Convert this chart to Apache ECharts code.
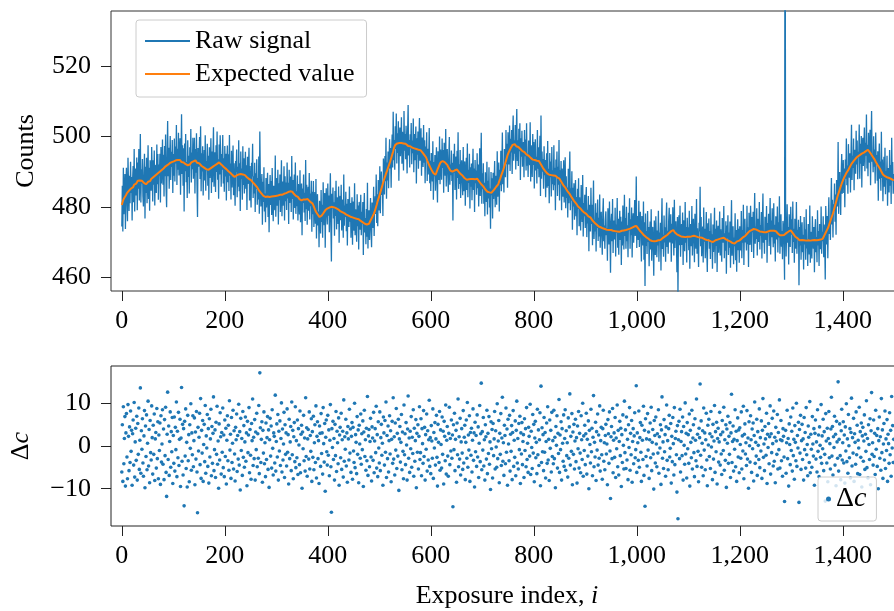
<!DOCTYPE html>
<html>
<head>
<meta charset="utf-8">
<script src="https://cdn.jsdelivr.net/npm/echarts@6/dist/echarts.min.js"></script>
<style>
html,body{margin:0;padding:0;background:#fff;}
#chart{width:894px;height:611px;}
</style>
</head>
<body>
<div id="chart"></div>
<script>
// Expected value (orange), one value per exposure index 0..1499
const expected = [
480.5,481.1,481.3,482.0,482.1,482.6,482.5,483.1,483.3,483.6,
483.9,483.6,484.3,484.1,484.6,484.4,484.9,484.7,485.2,484.9,
485.3,485.1,485.6,485.8,486.3,486.0,486.5,486.8,486.6,487.1,
487.0,487.4,487.1,487.6,487.3,487.5,487.2,487.6,487.2,487.4,
487.3,487.0,487.2,486.8,486.9,486.5,486.8,486.4,486.7,486.6,
486.8,487.1,486.9,487.3,487.5,487.3,487.7,487.9,487.7,488.2,
488.1,488.4,488.3,488.6,488.5,488.9,488.8,489.1,489.0,489.4,
489.4,489.7,489.5,489.9,489.8,490.2,490.0,490.4,490.3,490.7,
490.6,490.9,490.8,491.2,491.0,491.5,491.3,491.7,491.5,491.9,
491.9,492.2,492.0,492.4,492.2,492.6,492.3,492.7,492.4,492.7,
492.6,492.9,492.7,493.1,492.8,493.2,493.0,493.4,493.1,493.3,
493.2,493.5,493.1,493.3,492.9,493.1,492.7,492.9,492.5,492.8,
492.6,492.7,492.3,492.5,492.1,492.3,491.9,492.1,491.8,492.0,
491.9,492.2,492.0,492.4,492.3,492.6,492.4,492.8,492.6,492.9,
492.8,493.1,492.9,493.2,492.8,492.9,492.5,492.7,492.4,492.6,
492.4,492.2,492.3,491.9,492.0,491.6,491.7,491.3,491.5,491.2,
491.1,491.2,490.9,491.0,490.7,490.9,490.6,490.8,490.5,490.7,
490.6,490.8,490.7,491.0,490.9,491.2,491.1,491.4,491.2,491.5,
491.5,491.8,491.6,492.0,491.9,492.2,492.0,492.4,492.2,492.6,
492.5,492.6,492.2,492.3,491.9,492.0,491.6,491.7,491.3,491.5,
491.3,491.1,491.0,490.7,490.8,490.4,490.5,490.1,490.2,489.9,
489.8,489.6,489.7,489.3,489.4,489.0,489.1,488.7,488.9,488.5,
488.5,488.7,488.6,488.9,488.7,489.0,488.8,489.2,488.9,489.1,
489.1,489.3,489.0,489.2,488.9,489.2,488.9,489.1,488.8,489.0,
488.9,488.7,488.8,488.4,488.5,488.1,488.3,487.9,488.1,487.8,
487.7,487.6,487.3,487.4,487.0,487.1,486.7,486.8,486.4,486.5,
486.3,486.0,485.9,485.5,485.4,485.0,484.9,484.5,484.4,484.1,
484.0,483.8,483.7,483.4,483.5,483.1,483.3,482.9,483.1,482.8,
482.9,483.0,482.7,482.9,482.6,482.8,482.5,482.8,482.6,482.9,
482.7,482.9,482.6,482.8,482.7,483.0,482.7,483.0,482.8,483.1,
482.9,483.1,482.9,483.2,483.0,483.3,483.1,483.4,483.1,483.3,
483.2,483.4,483.3,483.6,483.4,483.7,483.5,483.8,483.6,483.9,
483.8,484.0,483.9,484.2,484.0,484.3,484.1,484.4,484.1,484.3,
484.2,484.3,484.0,484.1,483.7,483.8,483.4,483.5,483.1,483.2,
483.0,482.9,482.8,482.5,482.6,482.2,482.3,481.9,482.1,481.8,
481.8,482.0,481.8,482.1,481.9,482.2,481.9,482.1,481.8,482.1,
482.0,482.2,481.9,482.0,481.7,481.8,481.4,481.5,481.1,481.2,
481.0,480.6,480.4,479.9,479.8,479.3,479.1,478.6,478.5,478.1,
478.0,477.7,477.5,477.3,477.1,477.0,477.2,477.3,477.5,477.6,
477.8,478.1,478.2,478.6,478.7,479.0,479.0,479.3,479.2,479.5,
479.5,479.7,479.5,479.8,479.6,479.9,479.7,480.0,479.7,479.9,
479.8,479.9,479.6,479.8,479.5,479.7,479.4,479.6,479.3,479.4,
479.3,479.3,479.0,479.1,478.8,479.0,478.7,478.8,478.5,478.7,
478.5,478.5,478.2,478.3,477.9,478.1,477.8,477.9,477.5,477.7,
477.5,477.6,477.3,477.5,477.2,477.4,477.1,477.3,477.0,477.2,
477.0,477.1,476.8,477.0,476.7,476.9,476.6,476.8,476.5,476.7,
476.5,476.6,476.3,476.4,476.0,476.2,475.8,476.0,475.6,475.8,
475.5,475.6,475.2,475.4,475.1,475.3,475.0,475.3,475.1,475.4,
475.2,475.5,475.6,476.1,476.2,476.7,476.8,477.3,477.4,477.9,
478.0,478.6,479.0,479.6,480.0,480.6,481.0,481.7,482.0,482.6,
483.0,483.6,484.0,484.6,485.0,485.6,486.0,486.6,487.0,487.6,
488.0,488.5,488.8,489.4,489.7,490.2,490.5,491.1,491.4,491.9,
492.2,492.8,493.2,493.8,494.3,494.8,495.3,495.8,496.3,496.9,
497.3,497.6,497.4,497.8,497.6,498.0,497.7,498.1,497.8,498.1,
498.0,498.2,497.9,498.1,497.8,498.1,497.8,498.0,497.7,498.0,
497.9,497.9,497.6,497.8,497.5,497.6,497.3,497.5,497.2,497.4,
497.2,497.3,497.0,497.1,496.8,497.0,496.7,496.9,496.6,496.8,
496.6,496.7,496.4,496.6,496.3,496.5,496.2,496.4,496.1,496.3,
496.1,496.0,495.8,495.7,495.4,495.4,495.0,495.0,494.6,494.7,
494.5,494.0,493.8,493.2,493.0,492.5,492.3,491.8,491.5,491.2,
491.0,490.6,490.5,490.1,490.0,489.6,489.6,489.2,489.3,489.1,
489.3,489.8,490.0,490.6,490.8,491.3,491.5,492.0,492.1,492.6,
492.6,492.9,492.7,493.0,492.7,492.9,492.5,492.7,492.3,492.6,
492.4,492.3,491.9,491.8,491.3,491.2,490.8,490.7,490.3,490.2,
490.0,490.2,490.0,490.3,490.2,490.5,490.3,490.6,490.4,490.7,
490.6,490.6,490.3,490.3,490.0,490.0,489.6,489.7,489.3,489.4,
489.2,489.1,488.8,488.8,488.4,488.5,488.1,488.2,487.8,487.9,
487.7,487.9,487.7,488.0,487.8,488.1,487.8,488.1,487.9,488.2,
488.0,488.2,487.9,488.2,487.9,488.1,487.8,488.1,487.9,488.2,
488.0,487.9,487.6,487.5,487.2,487.2,486.8,486.8,486.4,486.5,
486.2,486.0,485.8,485.6,485.4,485.3,484.9,484.9,484.5,484.5,
484.3,484.5,484.2,484.4,484.1,484.3,484.0,484.3,484.0,484.3,
484.2,484.5,484.5,484.9,485.0,485.3,485.3,485.7,485.6,486.0,
485.9,486.4,486.7,487.3,487.6,488.1,488.4,489.0,489.3,489.8,
490.0,490.6,491.0,491.6,492.0,492.6,493.0,493.6,494.0,494.6,
495.0,495.4,495.5,496.0,496.1,496.6,496.7,497.1,497.2,497.6,
497.7,497.9,497.6,497.8,497.4,497.6,497.2,497.4,497.0,497.2,
497.0,497.0,496.7,496.8,496.4,496.5,496.1,496.2,495.8,496.0,
495.8,495.8,495.5,495.5,495.1,495.2,494.8,494.9,494.5,494.7,
494.5,494.5,494.2,494.3,493.9,494.1,493.7,493.8,493.4,493.6,
493.4,493.6,493.3,493.5,493.1,493.4,493.1,493.3,492.9,493.2,
493.0,492.9,492.5,492.4,492.0,491.9,491.5,491.4,491.0,490.9,
490.6,490.5,490.2,490.2,489.9,489.9,489.5,489.6,489.2,489.3,
489.1,489.3,489.0,489.3,489.0,489.2,488.9,489.2,488.9,489.2,
489.1,489.1,488.8,488.9,488.5,488.7,488.3,488.5,488.1,488.2,
488.0,487.9,487.5,487.4,487.0,486.9,486.5,486.5,486.0,486.0,
485.8,485.7,485.3,485.2,484.8,484.8,484.3,484.3,483.9,483.8,
483.6,483.5,483.1,483.0,482.6,482.6,482.2,482.1,481.7,481.7,
481.5,481.4,481.0,480.9,480.6,480.5,480.1,480.1,479.7,479.8,
479.6,479.6,479.2,479.3,478.9,479.1,478.7,478.8,478.4,478.6,
478.4,478.3,478.0,478.0,477.7,477.7,477.3,477.4,477.0,477.2,
477.0,476.9,476.5,476.5,476.1,476.2,475.8,475.8,475.5,475.6,
475.5,475.4,475.0,475.0,474.7,474.8,474.4,474.5,474.2,474.3,
474.2,474.3,474.0,474.2,473.9,474.1,473.8,474.0,473.7,473.9,
473.7,473.8,473.5,473.8,473.5,473.7,473.4,473.6,473.3,473.6,
473.4,473.5,473.2,473.5,473.2,473.4,473.1,473.4,473.1,473.3,
473.2,473.3,473.0,473.3,473.0,473.2,472.9,473.2,472.9,473.1,
473.0,473.2,472.9,473.2,473.0,473.3,473.0,473.3,473.1,473.4,
473.3,473.5,473.3,473.6,473.4,473.7,473.5,473.8,473.6,474.0,
473.9,474.1,473.9,474.2,474.0,474.4,474.2,474.5,474.3,474.6,
474.5,474.4,474.0,474.0,473.6,473.6,473.2,473.2,472.8,472.8,
472.6,472.6,472.2,472.3,471.9,472.0,471.6,471.8,471.4,471.5,
471.3,471.3,471.0,471.1,470.7,470.9,470.5,470.7,470.3,470.5,
470.3,470.5,470.2,470.5,470.2,470.5,470.3,470.6,470.3,470.6,
470.5,470.7,470.5,470.8,470.6,470.9,470.6,470.9,470.7,471.0,
470.9,471.2,471.1,471.4,471.3,471.6,471.5,471.8,471.7,472.0,
472.0,472.3,472.2,472.6,472.5,472.9,472.7,473.1,473.0,473.3,
473.3,473.4,473.0,473.1,472.7,472.8,472.5,472.6,472.2,472.4,
472.2,472.3,471.9,472.1,471.8,471.9,471.6,471.8,471.5,471.7,
471.5,471.7,471.4,471.7,471.4,471.7,471.4,471.7,471.5,471.8,
471.6,471.8,471.5,471.8,471.5,471.8,471.6,471.9,471.6,471.8,
471.7,471.8,471.5,471.7,471.4,471.6,471.3,471.5,471.2,471.4,
471.3,471.4,471.1,471.3,471.0,471.3,471.0,471.2,470.9,471.2,
471.0,471.1,470.8,471.0,470.7,470.9,470.6,470.8,470.5,470.7,
470.5,470.6,470.3,470.5,470.2,470.4,470.1,470.3,470.0,470.3,
470.1,470.3,470.2,470.5,470.3,470.6,470.4,470.7,470.5,470.8,
470.7,470.9,470.7,471.0,470.8,471.1,470.9,471.2,470.9,471.2,
471.1,471.1,470.9,471.0,470.7,470.8,470.5,470.7,470.4,470.5,
470.4,470.4,470.1,470.2,469.9,470.0,469.7,469.9,469.6,469.8,
469.6,469.8,469.7,470.0,469.9,470.2,470.0,470.3,470.1,470.4,
470.3,470.6,470.5,470.9,470.8,471.1,471.0,471.4,471.2,471.6,
471.5,471.8,471.8,472.2,472.1,472.5,472.4,472.8,472.7,473.1,
473.0,473.3,473.1,473.4,473.2,473.5,473.3,473.7,473.4,473.7,
473.6,473.6,473.3,473.4,473.1,473.3,473.0,473.2,472.8,473.0,
472.9,473.0,472.7,472.9,472.6,472.8,472.5,472.8,472.5,472.7,
472.6,472.8,472.6,472.9,472.7,473.0,472.8,473.1,472.9,473.2,
473.1,473.3,473.0,473.2,472.9,473.2,472.9,473.2,472.9,473.1,
473.0,473.0,472.7,472.8,472.4,472.5,472.2,472.3,471.9,472.1,
472.0,472.2,471.9,472.2,472.0,472.3,472.0,472.3,472.1,472.4,
472.3,472.6,472.4,472.8,472.6,473.0,472.8,473.1,473.0,473.3,
473.2,473.1,472.8,472.7,472.3,472.3,471.9,471.9,471.5,471.6,
471.5,471.5,471.1,471.2,470.8,470.9,470.5,470.7,470.3,470.5,
470.4,470.6,470.3,470.5,470.2,470.5,470.2,470.5,470.2,470.4,
470.3,470.5,470.2,470.5,470.2,470.4,470.1,470.4,470.2,470.4,
470.3,470.5,470.2,470.5,470.3,470.6,470.3,470.5,470.2,470.5,
470.4,470.6,470.3,470.6,470.4,470.7,470.4,470.7,470.5,470.8,
470.6,470.9,471.1,471.5,471.7,472.1,472.3,472.7,472.9,473.3,
473.3,473.8,474.2,474.7,475.1,475.6,476.0,476.5,476.9,477.4,
477.5,478.1,478.6,479.2,479.7,480.3,480.8,481.4,481.9,482.5,
483.0,483.5,483.9,484.4,484.8,485.3,485.6,486.2,486.5,487.0,
487.3,487.7,487.9,488.4,488.6,489.0,489.2,489.6,489.8,490.1,
490.1,490.5,490.6,491.1,491.2,491.6,491.7,492.2,492.3,492.6,
492.7,493.0,493.0,493.4,493.4,493.7,493.7,494.1,494.0,494.3,
494.3,494.5,494.4,494.7,494.6,494.9,494.8,495.1,495.0,495.3,
495.2,495.4,495.3,495.6,495.5,495.8,495.7,496.0,495.9,496.2,
496.1,496.0,495.7,495.6,495.2,495.2,494.8,494.8,494.3,494.3,
494.0,493.9,493.4,493.3,492.8,492.8,492.3,492.2,491.8,491.7,
491.5,491.3,490.9,490.8,490.3,490.3,489.8,489.7,489.2,489.2,
489.0,489.0,488.7,488.9,488.5,488.7,488.4,488.6,488.3,488.5,
488.2,488.4,488.1,488.3,487.9,488.1,487.8,488.0,487.6,487.8
];

// Residual Δc = raw signal − expected value, one value per exposure index 0..1499
const residual = [
-6.1,4.9,-8.3,9.1,-4.2,1.7,6.8,-9.4,3.0,7.5,-2.6,-7.7,9.6,2.2,-5.8,4.4,-3.9,8.1,-1.3,3.6,
-9.2,2.8,6.0,-4.5,10.1,-7.3,0.9,4.1,-3.4,6.9,-8.0,5.2,-2.0,8.8,-5.5,1.3,13.5,-6.4,3.5,-0.8,
6.3,-4.0,-7.1,2.3,8.2,-9.8,4.6,-2.5,7.2,-5.6,0.6,10.4,-4.7,3.8,-8.6,5.9,-1.6,-3.3,9.3,1.9,
-6.6,4.8,-2.0,7.4,-8.1,1.6,3.1,-5.2,8.7,-3.0,5.6,-7.7,2.5,-1.1,5.3,-9.0,7.0,-3.8,0.4,8.4,
-4.3,3.9,-7.9,6.1,-2.3,9.0,-6.2,-11.8,2.7,12.5,-3.2,4.6,-6.9,1.0,7.9,-5.0,3.3,-1.4,6.6,-8.8,
2.4,-4.1,6.7,-5.9,4.3,-0.9,10.2,-7.2,3.4,-2.8,7.8,-4.6,1.5,6.2,-9.5,1.8,13.6,-3.6,5.0,-6.8,
4.0,-14.0,5.7,-2.4,8.6,-5.3,0.8,-9.6,7.1,-3.5,2.6,-8.4,4.9,-0.6,9.8,-5.7,3.0,-2.1,7.0,-4.9,
1.2,6.5,-9.1,3.2,-3.1,8.0,-6.1,-15.6,4.3,-1.2,2.0,7.6,-4.4,11.0,-7.6,3.6,-1.7,5.9,-8.3,0.3,
5.0,-3.7,9.4,-6.4,2.3,-0.5,7.3,-4.8,4.0,-8.7,6.3,-2.6,1.6,8.5,-7.0,4.5,-4.1,2.9,11.4,-5.8,
-0.9,3.7,-7.4,5.5,-2.0,9.2,-4.3,1.1,-9.9,5.1,-3.3,7.7,2.1,-6.6,3.1,-1.5,8.8,-5.1,2.5,-7.2,
6.0,-2.5,4.1,-8.9,1.3,7.0,-3.5,4.8,-5.7,10.5,-1.0,2.7,-7.6,6.6,-3.9,0.6,8.3,-5.4,3.5,-1.9,
-8.2,4.3,1.4,7.4,-6.0,2.4,-3.1,9.7,-4.5,3.3,-10.3,6.4,-1.1,1.7,-6.9,8.0,-2.7,4.7,-5.0,0.9,
6.7,-3.6,3.0,-9.3,5.7,-1.6,2.5,8.9,-6.3,3.8,-2.2,-7.8,5.2,1.2,10.9,-4.6,2.0,-3.0,6.1,-8.0,
3.2,-0.9,7.6,-4.9,2.8,-2.9,9.4,-6.5,17.0,4.2,-3.9,1.5,5.6,-8.5,3.6,-1.7,7.9,-4.2,0.7,-7.2,
5.3,-3.2,1.9,6.8,-5.5,3.7,-9.7,1.4,6.4,-2.4,4.6,-5.2,8.4,-0.6,-6.8,3.0,2.2,-4.0,11.8,-5.9,
1.0,5.1,-2.6,7.3,-8.0,3.4,-1.2,5.8,-4.6,1.7,10.0,-6.1,3.9,-3.3,0.4,7.8,-7.4,4.9,-2.0,3.0,
-4.7,8.6,-1.5,2.6,-8.9,6.2,-3.0,0.9,4.5,-5.8,10.2,-2.1,3.6,-7.7,2.1,5.4,-3.7,9.1,-5.1,1.2,
-2.8,6.0,-6.7,4.0,0.2,-4.4,8.1,-6.3,2.7,4.8,-9.9,3.2,-0.7,7.1,-3.5,1.8,-5.9,11.2,-2.5,4.2,
-7.1,1.6,3.8,-3.1,7.9,-5.4,2.4,-1.3,6.3,-8.3,3.3,-2.7,6.9,-5.6,0.7,4.9,-3.9,9.3,-7.5,2.2,
5.6,-3.0,1.2,-8.8,4.6,2.9,-4.8,7.5,-1.8,3.0,-6.6,8.9,0.5,-3.8,5.2,-10.6,2.0,6.0,-1.4,-4.5,
7.1,-2.2,3.7,-7.0,1.3,9.6,-4.9,-15.5,4.0,-0.4,5.7,-3.2,1.7,-8.0,5.0,-2.3,8.0,-6.0,3.4,0.7,
-4.2,6.5,-9.2,2.5,4.3,-2.8,7.6,-5.5,1.4,3.4,-7.3,10.7,-3.6,2.1,-0.8,6.2,-4.7,3.0,-8.5,4.5,
1.6,-3.3,8.5,-1.7,3.9,-6.2,2.2,5.4,-7.8,4.3,-1.2,-3.9,9.9,-5.1,2.6,0.8,-6.5,6.8,-2.0,3.7,
-8.6,4.8,0.4,-2.9,7.4,-4.3,2.8,-0.9,5.8,-9.5,3.2,8.3,-2.5,1.4,-5.7,4.1,-3.5,11.5,-6.9,2.3,
3.8,-4.9,1.0,6.4,-2.6,-8.2,4.4,1.8,-3.4,7.8,-6.3,1.1,4.0,-1.6,9.2,-5.2,2.6,-7.2,5.6,-0.5,
-4.0,7.9,-5.8,1.9,5.0,-2.2,0.6,-9.2,6.7,3.0,-4.5,5.9,-1.5,10.2,-7.4,2.4,-3.0,4.6,-6.1,1.2,
7.0,-1.9,3.5,-8.4,1.5,5.7,-4.1,11.2,-3.1,2.1,-6.8,5.3,-1.0,8.7,-5.3,2.9,-2.4,6.2,-10.4,1.6,
4.5,-3.8,0.8,7.3,-5.6,3.2,-1.3,-7.7,9.5,-2.1,2.8,-4.4,5.4,0.2,-8.0,3.9,11.6,-2.9,1.8,-6.2,
3.4,-0.7,6.8,-5.0,2.0,-1.8,8.4,-7.1,4.1,-3.6,1.2,6.1,-9.8,2.9,-1.5,4.9,-5.4,2.2,9.1,-3.2,
-1.6,6.3,-7.0,4.0,0.5,-4.1,8.2,-2.5,4.3,-8.0,2.6,-0.8,7.4,-5.9,3.5,-3.3,1.4,10.6,-4.8,1.9,
-6.5,4.7,1.1,-2.9,8.6,-7.6,3.1,-0.5,5.4,-4.5,1.6,7.1,-2.7,-9.4,5.0,0.8,-3.9,8.0,-5.7,3.7,
0.3,-5.2,6.7,-2.0,3.4,-8.9,5.7,2.2,-3.5,9.5,-6.6,1.3,4.5,-2.4,-7.1,2.9,9.0,-4.4,1.7,-1.2,
6.0,-2.9,2.5,-14.2,4.9,-0.9,7.6,-5.8,1.5,3.6,-8.5,5.3,-2.1,10.9,-4.9,2.1,-3.1,6.4,-6.8,0.9,
4.0,-1.7,-5.5,8.2,-4.0,2.0,4.8,-7.9,0.8,6.0,-2.9,10.1,-5.0,2.5,-1.0,7.0,-8.3,3.1,-2.2,4.1,
-6.1,1.3,8.6,-3.4,3.0,-9.6,5.5,-1.4,2.4,-4.8,7.2,-2.6,4.4,-7.4,0.6,9.4,-3.7,2.8,14.6,-5.6,
3.3,-1.0,6.6,-4.7,1.4,-8.0,4.9,2.1,-3.1,8.3,-6.5,2.9,-1.8,6.8,-4.3,0.9,-10.2,5.6,-0.7,3.8,
-7.5,5.2,-2.3,1.6,8.0,-5.4,3.5,-0.3,-5.0,9.8,-3.0,1.1,5.9,-8.6,2.9,-2.0,7.5,-4.6,1.8,11.3,
-3.6,0.7,-6.9,4.8,2.4,-4.2,8.8,-1.5,3.9,-9.2,6.2,0.4,-3.5,7.1,-5.9,2.7,-1.3,4.7,-7.9,3.1,
8.2,-4.8,1.3,-2.7,5.8,-7.0,3.6,10.4,-4.0,1.7,-5.4,5.2,-0.9,6.9,-8.8,3.0,-1.9,5.4,-4.4,1.0,
2.6,-7.4,6.3,-1.1,4.0,-4.9,8.9,-3.2,0.6,-6.2,4.3,2.2,-2.4,9.7,-6.7,3.4,-0.4,-5.3,7.3,-1.7,
5.0,-8.4,1.8,5.7,-2.8,0.8,-6.5,8.5,-2.1,3.7,-4.6,1.4,7.7,-9.3,13.9,-3.9,4.2,-1.4,2.6,-5.8,
6.6,-1.5,3.1,-7.5,1.0,5.3,-4.1,9.1,-3.3,1.5,-8.1,6.0,-0.6,3.6,-6.1,7.8,-2.5,1.2,-4.2,8.3,
-3.0,2.0,-9.8,4.5,0.1,7.0,-5.2,2.9,-1.8,10.8,-6.2,2.5,-0.9,5.6,-8.0,4.0,0.6,-3.6,7.2,-4.8,
1.7,8.4,-5.7,3.5,-2.3,0.7,-7.3,6.5,-2.9,4.4,12.1,-4.5,2.2,-1.3,7.5,-9.1,3.2,-2.0,5.0,-5.4,
1.1,6.2,-3.7,1.9,-8.7,4.6,-0.7,8.0,-5.2,2.9,-1.7,-6.3,7.0,1.4,-3.2,9.9,-7.1,2.3,-1.1,4.8,
-4.4,2.8,7.6,-6.6,1.5,-2.4,5.8,-10.0,3.6,0.3,-4.0,8.5,-1.4,4.1,-7.0,2.0,11.7,-4.9,0.8,-2.6,
5.5,-8.1,3.3,-1.0,7.4,-4.5,2.5,-2.9,9.3,-5.9,1.2,4.3,-2.1,-7.8,4.0,8.3,-3.6,0.7,-5.6,2.4,
5.0,-1.9,0.4,-9.1,6.1,2.8,-4.1,7.9,-1.2,-12.3,2.1,4.5,-3.0,8.7,-6.3,1.3,3.0,-2.7,6.6,-7.4,
1.8,-0.7,9.5,-4.9,3.6,-6.8,1.0,5.7,-2.3,4.1,-9.5,2.6,-3.9,7.2,0.1,-5.4,10.4,-1.6,3.7,-5.3,
6.7,-3.3,1.5,-7.9,4.9,-0.4,8.9,-5.7,2.9,-2.1,5.9,-8.5,1.0,4.0,-4.2,2.3,7.7,-2.8,-0.9,14.0,
-6.2,3.0,0.7,-3.4,8.1,-5.0,1.9,5.4,-1.5,-8.3,4.8,1.3,-3.2,9.2,-6.9,3.6,-14.1,6.3,-2.5,1.6,
-4.7,7.5,-1.0,3.2,-7.6,1.4,5.3,-2.8,9.0,-5.8,0.8,3.8,-1.9,-10.1,5.9,2.4,-4.0,6.7,0.4,-4.9,
2.8,-1.7,8.4,-6.4,2.1,-0.5,4.9,-9.0,3.7,11.4,-2.9,0.9,-5.3,6.1,-1.4,2.6,-7.1,4.4,9.5,-3.4,
1.2,-5.6,4.0,7.1,-2.6,-0.6,5.2,-8.7,2.2,-3.7,6.6,0.5,-6.8,8.9,-4.4,1.7,3.4,-2.1,-10.8,4.7,
-17.0,1.4,5.7,-3.0,8.5,-6.1,1.0,3.3,-2.3,6.7,-8.0,4.5,0.1,-4.3,10.0,-1.9,2.9,-7.5,5.4,-0.7,
2.6,-4.1,7.4,-9.4,3.6,0.8,-2.8,8.3,-5.4,1.8,4.9,-1.6,-7.2,6.3,1.3,-3.5,10.9,-4.8,2.7,-1.3,
-8.4,4.1,1.9,14.4,-2.2,5.8,-5.0,0.6,3.5,-7.0,8.8,-1.0,3.0,-5.6,1.4,7.6,-3.3,-9.3,4.8,0.2,
6.2,-2.5,2.8,-5.3,8.0,-0.3,2.1,-7.9,5.0,-3.1,1.1,9.4,-6.2,3.3,-1.4,5.5,-8.9,1.7,4.1,-3.8,
0.9,7.8,-4.5,2.6,-1.9,-6.7,5.9,3.2,-1.1,9.0,-5.7,1.4,-3.4,4.9,-9.7,3.9,0.6,6.9,-4.1,2.2,
-2.0,5.4,-7.4,3.0,12.0,-3.9,1.0,4.6,-5.9,1.5,-0.8,8.4,-4.9,3.4,-8.3,1.2,6.5,-2.6,3.7,-6.3,
4.2,0.3,-2.9,7.9,-5.4,2.3,-1.2,9.2,-7.7,2.7,5.1,-1.9,0.7,-4.6,8.2,-3.1,1.8,-9.9,5.6,0.0,
-3.8,7.0,1.4,-6.2,3.9,-0.7,5.3,-8.2,2.4,10.2,-4.1,0.8,-2.4,6.2,-6.9,3.3,0.1,-3.2,8.6,-5.1,
1.9,-1.2,5.8,-7.6,3.6,11.0,-2.7,0.4,-5.8,4.5,1.6,-2.2,7.6,-8.8,2.7,-0.4,5.2,-4.2,2.1,9.3,
-6.6,2.8,-1.6,6.4,0.5,-4.7,8.1,-3.6,2.0,-8.6,4.3,1.1,-2.0,7.3,-5.4,3.1,-0.9,10.7,-5.2,1.4,
5.9,-3.5,1.2,-7.1,4.0,2.2,-2.6,-13.0,130.0,3.6,-6.4,0.7,8.3,-3.0,1.7,-9.4,5.1,0.3,-4.4,6.7,
-1.1,3.4,-5.9,8.8,-2.3,1.5,-7.8,4.7,0.8,-3.5,9.9,-4.8,2.4,-0.5,5.5,-13.2,3.8,-1.7,7.1,-5.5,
1.2,5.0,-3.2,1.6,-8.0,6.6,-0.9,3.1,-5.2,8.9,-2.1,0.3,-7.0,4.6,2.0,-3.9,10.3,-6.3,2.7,-0.8,
-5.0,6.8,0.4,-2.4,4.0,-9.2,2.9,6.0,-3.1,0.9,-6.1,8.4,-1.3,2.5,-7.2,4.4,0.1,-2.7,9.6,-4.1,
2.3,-0.7,6.2,-5.8,3.3,-2.0,-12.9,7.5,1.1,-4.0,4.1,-8.4,1.7,8.0,-2.8,0.5,-5.4,3.9,11.3,-2.4,
4.5,-6.8,2.1,-0.4,6.9,-4.5,2.7,-9.3,5.7,0.9,-2.9,14.9,-5.9,1.5,5.1,-2.3,-7.9,3.5,8.5,-3.3,
0.7,5.6,-4.0,2.5,-8.7,4.4,-1.2,9.8,-3.7,1.6,-6.4,7.3,0.0,-2.8,4.0,-7.5,3.1,11.1,-4.7,1.9,
-1.7,6.4,-8.3,2.8,0.8,-4.3,7.9,-2.1,4.8,-6.5,1.3,-0.5,9.0,-6.7,3.3,-2.7,5.3,-9.6,2.3,4.3,
-3.6,1.1,7.2,-5.5,2.7,-1.3,10.5,-5.1,1.7,-7.5,4.9,0.3,-3.2,6.3,-9.1,3.5,12.4,-2.0,0.7,-4.5,
6.0,-2.5,2.9,-6.7,8.3,-0.8,2.4,-4.8,4.0,-10.0,1.2,6.7,-2.9,2.1,-5.7,11.0,-1.6,3.7,-7.6,0.4,
5.2,-3.3,8.1,-5.3,1.6,-1.1,6.1,-8.3,2.7,0.5,-4.1,7.7,-2.1,3.6,-7.1,11.5,-0.5,4.7,-3.9,1.5
];

const xTicks = [0, 200, 400, 600, 800, 1000, 1200, 1400];
const countTicks = [460, 480, 500, 520];
const deltaTicks = [-10, 0, 10];

const n = Math.min(expected.length, residual.length);
const rawPts = [], expPts = [], resPts = [];
for (let i = 0; i < n; i++) {
  rawPts.push([i, expected[i] + residual[i]]);
  expPts.push([i, expected[i]]);
  resPts.push([i, residual[i]]);
}

const FONT = 'Liberation Serif';
const FS = 26;
const fmtX = v => String(v).replace(/\B(?=(\d{3})+(?!\d))/g, ',');
const fmtY = v => (v < 0 ? '\u2212' + Math.abs(v) : String(v));

function xAxisDef(idx, withName) {
  const a = {
    type: 'value', gridIndex: idx, min: -21, max: 1517,
    axisLine: { show: false, onZero: false },
    splitLine: { show: false },
    axisTick: { show: true, length: 10, customValues: xTicks, lineStyle: { color: '#222', width: 1 } },
    axisLabel: { customValues: xTicks, formatter: fmtX, fontFamily: FONT, fontSize: FS, color: '#000', margin: 17 }
  };
  if (withName) {
    a.name = 'Exposure index, {it|i}';
    a.nameLocation = 'middle';
    a.nameGap = 57;
    a.nameTextStyle = { fontFamily: FONT, fontSize: FS, color: '#000',
      rich: { it: { fontFamily: FONT, fontSize: FS, fontStyle: 'italic', color: '#000' } } };
  }
  return a;
}

const chart = echarts.init(document.getElementById('chart'), null, { renderer: 'canvas' });
chart.setOption({
  animation: false,
  backgroundColor: '#fff',
  textStyle: { fontFamily: FONT },
  grid: [
    { left: 111, top: 11, width: 792, height: 280, show: true, borderColor: '#333', borderWidth: 1,
      backgroundColor: 'transparent', containLabel: false, outerBoundsMode: 'none' },
    { left: 111, top: 366, width: 792, height: 160, show: true, borderColor: '#222', borderWidth: 1,
      backgroundColor: 'transparent', containLabel: false, outerBoundsMode: 'none' }
  ],
  xAxis: [xAxisDef(0, false), xAxisDef(1, true)],
  yAxis: [
    {
      type: 'value', gridIndex: 0, min: 456.1, max: 535.6,
      axisLine: { show: false, onZero: false }, splitLine: { show: false },
      axisTick: { show: true, length: 10, customValues: countTicks, lineStyle: { color: '#222' } },
      axisLabel: { customValues: countTicks, fontFamily: FONT, fontSize: FS, color: '#000', margin: 20 },
      name: 'Counts', nameLocation: 'middle', nameGap: 72,
      nameTextStyle: { fontFamily: FONT, fontSize: FS, color: '#000' }
    },
    {
      type: 'value', gridIndex: 1, min: -18.7, max: 18.6,
      axisLine: { show: false, onZero: false }, splitLine: { show: false },
      axisTick: { show: true, length: 10, customValues: deltaTicks, lineStyle: { color: '#222' } },
      axisLabel: { customValues: deltaTicks, formatter: fmtY, fontFamily: FONT, fontSize: FS, color: '#000', margin: 20 },
      name: 'Δ{it|c}', nameLocation: 'middle', nameGap: 77,
      nameTextStyle: { fontFamily: FONT, fontSize: FS, color: '#000',
        rich: { it: { fontFamily: FONT, fontSize: FS, fontStyle: 'italic', color: '#000' } } }
    }
  ],
  legend: [
    {
      data: ['Raw signal', 'Expected value'],
      left: 136, top: 20, orient: 'vertical',
      padding: [8, 12, 10, 9], itemGap: 7,
      itemWidth: 45, itemHeight: 2, icon: 'rect',
      borderColor: '#cccccc', borderWidth: 1, borderRadius: 3,
      backgroundColor: 'rgba(255,255,255,0.8)',
      textStyle: { fontFamily: FONT, fontSize: FS, color: '#000' },
      selectedMode: false
    },
    {
      data: ['Δc'],
      left: 818, top: 477, orient: 'vertical',
      padding: [8, 10, 8, 8],
      itemWidth: 5, itemHeight: 5, icon: 'circle',
      borderColor: '#cccccc', borderWidth: 1, borderRadius: 3,
      backgroundColor: 'rgba(255,255,255,0.8)',
      formatter: () => 'Δ{it|c}',
      textStyle: { fontFamily: FONT, fontSize: 28, color: '#000',
        rich: { it: { fontFamily: FONT, fontSize: 28, fontStyle: 'italic', color: '#000' } } },
      selectedMode: false
    }
  ],
  series: [
    {
      name: 'Raw signal', type: 'line', xAxisIndex: 0, yAxisIndex: 0,
      data: rawPts, showSymbol: false, symbol: 'none', clip: true,
      color: '#1f77b4', lineStyle: { color: '#1f77b4', width: 1.3 }, z: 2
    },
    {
      name: 'Expected value', type: 'line', xAxisIndex: 0, yAxisIndex: 0,
      data: expPts, showSymbol: false, symbol: 'none', clip: true,
      color: '#ff7f0e', lineStyle: { color: '#ff7f0e', width: 2 }, z: 3
    },
    {
      name: 'Δc', type: 'scatter', xAxisIndex: 1, yAxisIndex: 1,
      data: resPts, symbolSize: 3.6, clip: true,
      itemStyle: { color: '#1f77b4', opacity: 1 }, z: 2
    }
  ]
});
</script>
</body>
</html>
